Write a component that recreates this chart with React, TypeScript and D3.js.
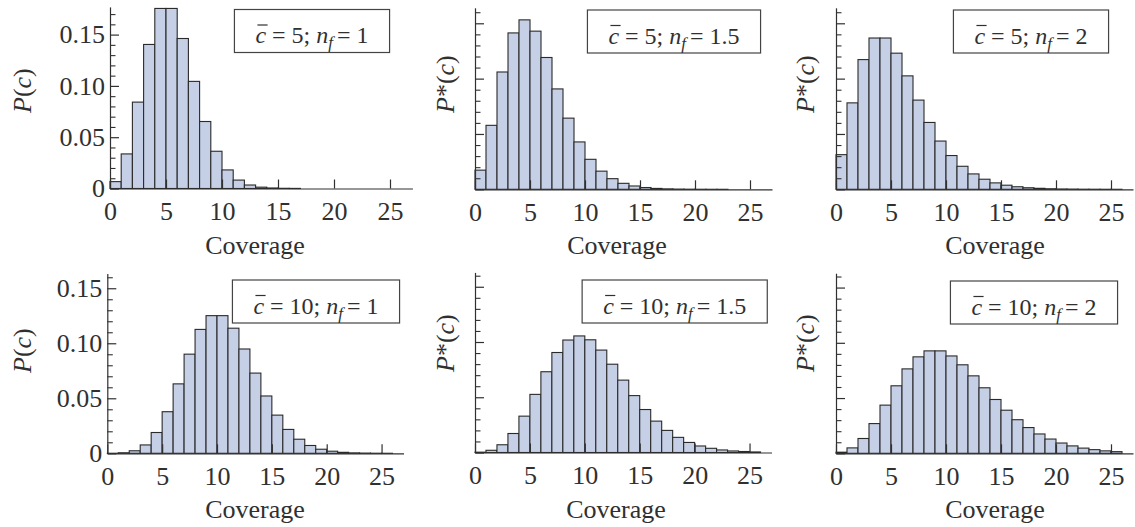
import React, { useEffect, useRef } from "react";
import * as d3 from "d3";

// coverage bins (each bar spans [c, c+1])
const coverage = [0, 1, 2, 3, 4, 5, 6, 7, 8, 9, 10, 11, 12, 13, 14, 15, 16, 17, 18, 19, 20, 21, 22, 23, 24, 25];

const c5nf1 = [0.0067, 0.0337, 0.0842, 0.1404, 0.1755, 0.1755, 0.1462, 0.1044, 0.0653, 0.0363, 0.0181, 0.0082, 0.0034, 0.0013, 0.0005, 0.0002, 0.0001, 0, 0, 0, 0, 0, 0, 0, 0, 0];
const c5nf15 = [0.0173, 0.0578, 0.106, 0.1413, 0.1531, 0.1429, 0.1191, 0.0907, 0.0643, 0.0428, 0.0271, 0.0164, 0.0096, 0.0054, 0.003, 0.0016, 0.0008, 0.0004, 0.0002, 0.0001, 0.00005, 0.00002, 0.00001, 0, 0, 0];
const c5nf2 = [0.0313, 0.0781, 0.1172, 0.1367, 0.1367, 0.123, 0.1025, 0.0806, 0.0604, 0.0436, 0.0305, 0.0208, 0.0139, 0.0091, 0.0058, 0.0037, 0.0023, 0.0014, 0.0009, 0.0005, 0.0003, 0.0002, 0.0001, 0.00007, 0.00004, 0.00002];
const c10nf1 = [0.00005, 0.0005, 0.0023, 0.0076, 0.0189, 0.0378, 0.0631, 0.0901, 0.1126, 0.1251, 0.1251, 0.1137, 0.0948, 0.0729, 0.0521, 0.0347, 0.0217, 0.0128, 0.0071, 0.0037, 0.0019, 0.0009, 0.0004, 0.0002, 0.00007, 0.00003];
const c10nf15 = [0.0003, 0.002, 0.007, 0.0172, 0.0329, 0.0526, 0.0731, 0.0905, 0.1018, 0.1055, 0.102, 0.0927, 0.0799, 0.0655, 0.0515, 0.0389, 0.0284, 0.02, 0.0137, 0.0091, 0.0059, 0.0038, 0.0023, 0.0014, 0.0009, 0.0005];
const c10nf2 = [0.001, 0.0049, 0.0134, 0.0269, 0.0436, 0.0611, 0.0764, 0.0873, 0.0927, 0.0927, 0.0881, 0.0801, 0.0701, 0.0593, 0.0487, 0.039, 0.0304, 0.0233, 0.0175, 0.0129, 0.0093, 0.0067, 0.0047, 0.0033, 0.0022, 0.0015];

const series = [c5nf1, c5nf15, c5nf2, c10nf1, c10nf15, c10nf2];
const meanLabels = ["5", "5", "5", "10", "10", "10"];
const nfLabels = ["1", "1.5", "2", "1", "1.5", "2"];
const starred = [false, true, true, false, true, true];

const xTickValues = [0, 5, 10, 15, 20, 25];
const yTickValues = [0, 0.05, 0.1, 0.15];
const yTickText = ["0", "0.05", "0.10", "0.15"];

// pixel placement of each panel
const layout = [
  { left: 110, right: 412.4, base: 188.5, top: 6.9, ymax: 0.177, labels: true, labX: 21.5, labBottom: 113, covX: 255, legX: 312, legTop: 9.5 },
  { left: 475, right: 772, base: 189.3, top: 7.8, ymax: 0.164, labels: false, labX: 445, labBottom: 113, covX: 617, legX: 674, legTop: 10 },
  { left: 836, right: 1133, base: 189.3, top: 7.8, ymax: 0.164, labels: false, labX: 805, labBottom: 113, covX: 995, legX: 1031, legTop: 10 },
  { left: 107.3, right: 403.5, base: 453.3, top: 273.4, ymax: 0.1635, labels: true, labX: 22, labBottom: 373, covX: 255, legX: 316, legTop: 280 },
  { left: 475, right: 771.5, base: 452.5, top: 272.4, ymax: 0.163, labels: false, labX: 445, labBottom: 372, covX: 616, legX: 674.7, legTop: 280 },
  { left: 836, right: 1133, base: 453.3, top: 273.2, ymax: 0.163, labels: false, labX: 805, labBottom: 372, covX: 995, legX: 1034, legTop: 281 },
];

const FONT = '"Liberation Serif", "Times New Roman", Times, serif';
const INK = "#303030";

export default function App() {
  const ref = useRef<SVGSVGElement>(null);

  useEffect(() => {
    const svg = d3.select(ref.current);
    svg.selectAll("*").remove();

    layout.forEach((L, i) => {
      const vals = series[i];
      const g = svg.append("g");

      const x = d3.scaleLinear().domain([0, 27]).range([L.left, L.right]);
      const y = d3.scaleLinear().domain([0, L.ymax]).range([L.base, L.top]);

      // bars
      g.selectAll("rect.bar")
        .data(coverage.filter((c) => vals[c] > 0))
        .enter()
        .append("rect")
        .attr("class", "bar")
        .attr("x", (c) => x(c))
        .attr("width", (c) => x(c + 1) - x(c))
        .attr("y", (c) => y(vals[c]))
        .attr("height", (c) => L.base - y(vals[c]))
        .attr("fill", "#c5cfe5")
        .attr("stroke", "#2a2a2a")
        .attr("stroke-width", 1.1);

      // x axis
      const xa = g.append("g")
        .attr("transform", `translate(0,${L.base})`)
        .call(d3.axisBottom(x).tickValues(xTickValues).tickSizeInner(-9).tickSizeOuter(0).tickPadding(13));
      xa.attr("font-size", 26).attr("color", INK).style("font-family", FONT);
      xa.selectAll("line, path").attr("stroke-width", 1.2);
      xa.selectAll("text").attr("fill", INK);

      // y axis, minor then major
      const minor = d3.range(0.01, L.ymax, 0.01).filter((v) => Math.abs(v / 0.05 - Math.round(v / 0.05)) > 1e-6);
      const ym = g.append("g")
        .attr("transform", `translate(${L.left},0)`)
        .call(d3.axisLeft(y).tickValues(minor).tickSizeInner(-5.5).tickSizeOuter(0).tickFormat(() => ""));
      ym.select(".domain").remove();
      ym.attr("color", INK).selectAll("line").attr("stroke-width", 1.1);

      const ya = g.append("g")
        .attr("transform", `translate(${L.left},0)`)
        .call(
          d3.axisLeft(y)
            .tickValues(yTickValues)
            .tickSizeInner(-9)
            .tickSizeOuter(0)
            .tickPadding(5)
            .tickFormat((d, k) => (L.labels ? yTickText[k] : ""))
        );
      ya.attr("font-size", 26).attr("color", INK).style("font-family", FONT);
      ya.selectAll("line, path").attr("stroke-width", 1.2);
      ya.selectAll("text").attr("fill", INK);

      // x label
      g.append("text")
        .attr("x", L.covX)
        .attr("y", L.base + 65)
        .attr("text-anchor", "middle")
        .style("font-family", FONT)
        .attr("font-size", 26)
        .attr("fill", INK)
        .text("Coverage");

      // y label
      const yl = g.append("text")
        .attr("transform", `translate(${L.labX},${L.labBottom}) rotate(-90)`)
        .attr("dominant-baseline", "central")
        .style("font-family", FONT)
        .attr("font-size", 26)
        .attr("fill", INK);
      yl.append("tspan").attr("font-style", "italic").text("P");
      if (starred[i]) yl.append("tspan").text("*");
      yl.append("tspan").text("(");
      yl.append("tspan").attr("font-style", "italic").text("c");
      yl.append("tspan").text(")");

      // legend box
      const lg = g.append("g");
      const box = lg.append("rect");
      const baseline = L.legTop + 33.5;
      const lt = lg.append("text")
        .attr("x", L.legX)
        .attr("y", baseline)
        .attr("text-anchor", "middle")
        .style("font-family", FONT)
        .attr("font-size", 24)
        .attr("fill", INK);
      lt.append("tspan").attr("font-style", "italic").text("c");
      lt.append("tspan").text(` = ${meanLabels[i]}; `);
      lt.append("tspan").attr("font-style", "italic").text("n");
      lt.append("tspan").attr("font-style", "italic").attr("font-size", 17).attr("dy", 5).text("f");
      lt.append("tspan").attr("dy", -5).attr("dx", 4).text(`= ${nfLabels[i]}`);

      const node = lt.node() as SVGTextElement;
      const bb = node.getBBox();
      box
        .attr("x", bb.x - 21)
        .attr("y", L.legTop)
        .attr("width", bb.width + 42)
        .attr("height", 43)
        .attr("fill", "white")
        .attr("stroke", "#444")
        .attr("stroke-width", 1.2);

      // bar over the c
      const s = node.getStartPositionOfChar(0);
      const e = node.getEndPositionOfChar(0);
      lg.append("line")
        .attr("x1", s.x + 2)
        .attr("x2", e.x + 1.5)
        .attr("y1", baseline - 18)
        .attr("y2", baseline - 18)
        .attr("stroke", INK)
        .attr("stroke-width", 1.2);
    });
  }, []);

  return (
    <svg
      ref={ref}
      width={1135}
      height={527}
      style={{ position: "absolute", left: 0, top: 0, background: "white", fontFamily: FONT }}
    />
  );
}
